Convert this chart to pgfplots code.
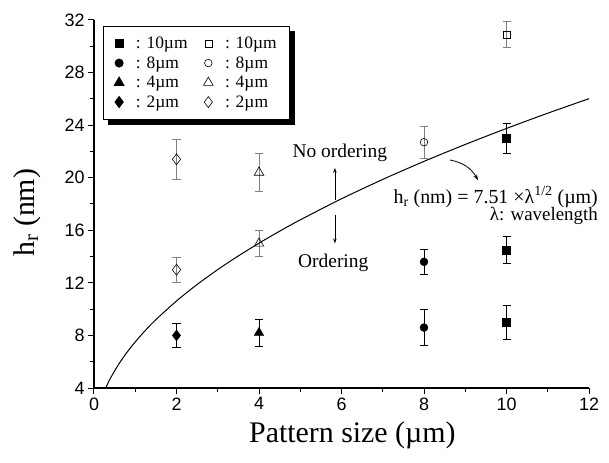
\documentclass[border=0pt]{standalone}
\usepackage{fontspec}
\setmainfont{Liberation Serif}
\newfontfamily\arial{Liberation Sans}
\usepackage{pgfplots}
\pgfplotsset{compat=1.18}
\usetikzlibrary{arrows.meta,shadows,calc}

\begin{document}
\begin{tikzpicture}
\begin{axis}[
  scale only axis, width=495bp, height=368bp,
  clip=false,
  xmin=0, xmax=12, ymin=4, ymax=32,
  xtick={0,2,...,12}, ytick={4,8,...,32},
  minor x tick num=1, minor y tick num=1,
  axis x line*=bottom, axis y line*=left,
  axis line style={line width=1.1bp,-},
  tick align=outside, major tick length=6bp, minor tick length=4bp,
  every tick/.style={line width=1bp,black},
  ticklabel style={font=\arial\fontsize{18}{20}\selectfont},
  /pgf/number format/assume math mode=true,
  xlabel={Pattern size (µm)}, ylabel={h\textsubscript{r} (nm)},
  every axis x label/.style={at={(axis description cs:0.522,-0.128)}, anchor=center},
  every axis y label/.style={at={(axis description cs:-0.135,0.476)}, rotate=90, anchor=center},
  label style={font=\fontsize{30}{32}\selectfont},
  legend columns=2,
  legend style={at={(0.018,0.985)}, anchor=north west, draw=black, line width=0.9bp,
    font=\fontsize{17.5}{20}\selectfont, inner xsep=11bp, inner ysep=9bp, row sep=2.5bp,
    drop shadow={shadow xshift=5bp, shadow yshift=-5bp, fill=black, opacity=1},
    /tikz/every even column/.append style={column sep=14bp}},
  legend cell align=left,
]
% filled: 10 um
\addplot[only marks, mark=square*, mark size=4bp, black, mark options={fill=black},
  error bars/.cd, y dir=both, y explicit,
  error bar style={line width=0.8bp}, error mark options={rotate=90, mark size=4bp, line width=0.8bp}]
  coordinates {(10,23.0) +- (0,1.15) (10,14.5) +- (0,1.0) (10,9.0) +- (0,1.3)};
\addlegendentry{\hspace{10bp}: 10µm}
% open: 10 um
\addplot[only marks, mark=square, mark size=3.5bp, black, mark options={line width=0.6bp},
  error bars/.cd, y dir=both, y explicit,
  error bar style={line width=0.8bp,gray}, error mark options={rotate=90, mark size=4bp, line width=0.8bp,gray}]
  coordinates {(10,30.9) +- (0,1.0)};
\addlegendentry{\hspace{10bp}: 10µm}
% filled: 8 um
\addplot[only marks, mark=*, mark size=4bp, black, mark options={fill=black},
  error bars/.cd, y dir=both, y explicit,
  error bar style={line width=0.8bp}, error mark options={rotate=90, mark size=4bp, line width=0.8bp}]
  coordinates {(8,13.6) +- (0,0.95) (8,8.6) +- (0,1.35)};
\addlegendentry{\hspace{10bp}: 8µm}
% open: 8 um
\addplot[only marks, mark=o, mark size=3.8bp, black, mark options={line width=0.6bp},
  error bars/.cd, y dir=both, y explicit,
  error bar style={line width=0.8bp,gray}, error mark options={rotate=90, mark size=4bp, line width=0.8bp,gray}]
  coordinates {(8,22.7) +- (0,1.2)};
\addlegendentry{\hspace{10bp}: 8µm}
% filled: 4 um
\addplot[only marks, mark=triangle*, mark size=5.5bp, black, mark options={fill=black},
  error bars/.cd, y dir=both, y explicit,
  error bar style={line width=0.8bp}, error mark options={rotate=90, mark size=4bp, line width=0.8bp}]
  coordinates {(4,8.2) +- (0,1.0)};
\addlegendentry{\hspace{10bp}: 4µm}
% open: 4 um
\addplot[only marks, mark=triangle, mark size=5.5bp, black, mark options={line width=0.6bp},
  error bars/.cd, y dir=both, y explicit,
  error bar style={line width=0.8bp,gray}, error mark options={rotate=90, mark size=4bp, line width=0.8bp,gray}]
  coordinates {(4,20.4) +- (0,1.45) (4,15.0) +- (0,1.0)};
\addlegendentry{\hspace{10bp}: 4µm}
% filled: 2 um
\addplot[only marks, mark=diamond*, mark size=5.5bp, black, mark options={fill=black},
  error bars/.cd, y dir=both, y explicit,
  error bar style={line width=0.8bp}, error mark options={rotate=90, mark size=4bp, line width=0.8bp}]
  coordinates {(2,8.0) +- (0,0.9)};
\addlegendentry{\hspace{10bp}: 2µm}
% open: 2 um
\addplot[only marks, mark=diamond, mark size=5.5bp, black, mark options={line width=0.6bp},
  error bars/.cd, y dir=both, y explicit,
  error bar style={line width=0.8bp,gray}, error mark options={rotate=90, mark size=4bp, line width=0.8bp,gray}]
  coordinates {(2,21.4) +- (0,1.5) (2,13.0) +- (0,0.95)};
\addlegendentry{\hspace{10bp}: 2µm}
% fitted curve h = 7.51 * sqrt(lambda), tabulated
\addplot[black, line width=1bp, smooth, forget plot] coordinates {
  (0.284,4.00) (0.4,4.750) (0.6,5.817) (0.8,6.717) (1.0,7.510) (1.25,8.396)
  (1.5,9.198) (2.0,10.621) (2.5,11.874) (3.0,13.008) (3.5,14.050) (4.0,15.020)
  (4.5,15.931) (5.0,16.793) (6.0,18.396) (7.0,19.870) (8.0,21.242) (9.0,22.530)
  (10.0,23.749) (11.0,24.908) (12.0,26.015)};

\node[font=\fontsize{19.5}{22}\selectfont] at (axis cs:5.96,21.9) {No ordering};
\node[font=\fontsize{19.5}{22}\selectfont] at (axis cs:5.8,13.5) {Ordering};
\draw[-{Stealth[length=5bp,width=3.5bp]}, line width=0.8bp] (axis cs:5.84,18.3) -- (axis cs:5.84,20.75);
\draw[-{Stealth[length=5bp,width=3.5bp]}, line width=0.8bp] (axis cs:5.84,17.2) -- (axis cs:5.84,15.0);
\draw[-{Stealth[length=6bp,width=4bp]}, line width=0.8bp] (axis cs:8.63,21.35) to[bend left=25] (axis cs:9.31,19.8);
\node[font=\fontsize{20}{22}\selectfont, anchor=east, inner sep=0pt] at (axis cs:12.22,18.55)
  {h\textsubscript{r} (nm) = 7.51 ×λ\textsuperscript{1/2} (µm)};
\node[font=\fontsize{19}{20}\selectfont, anchor=east, inner sep=0pt] at (axis cs:12.22,17.1) {λ: wavelength};
\coordinate (bl) at (rel axis cs:0,0);
\coordinate (tr) at (rel axis cs:1,1);
\end{axis}
\pgfresetboundingbox
\path[use as bounding box] ($(bl)+(-94bp,-75bp)$) rectangle ($(tr)+(20bp,20bp)$);
\end{tikzpicture}
\end{document}
